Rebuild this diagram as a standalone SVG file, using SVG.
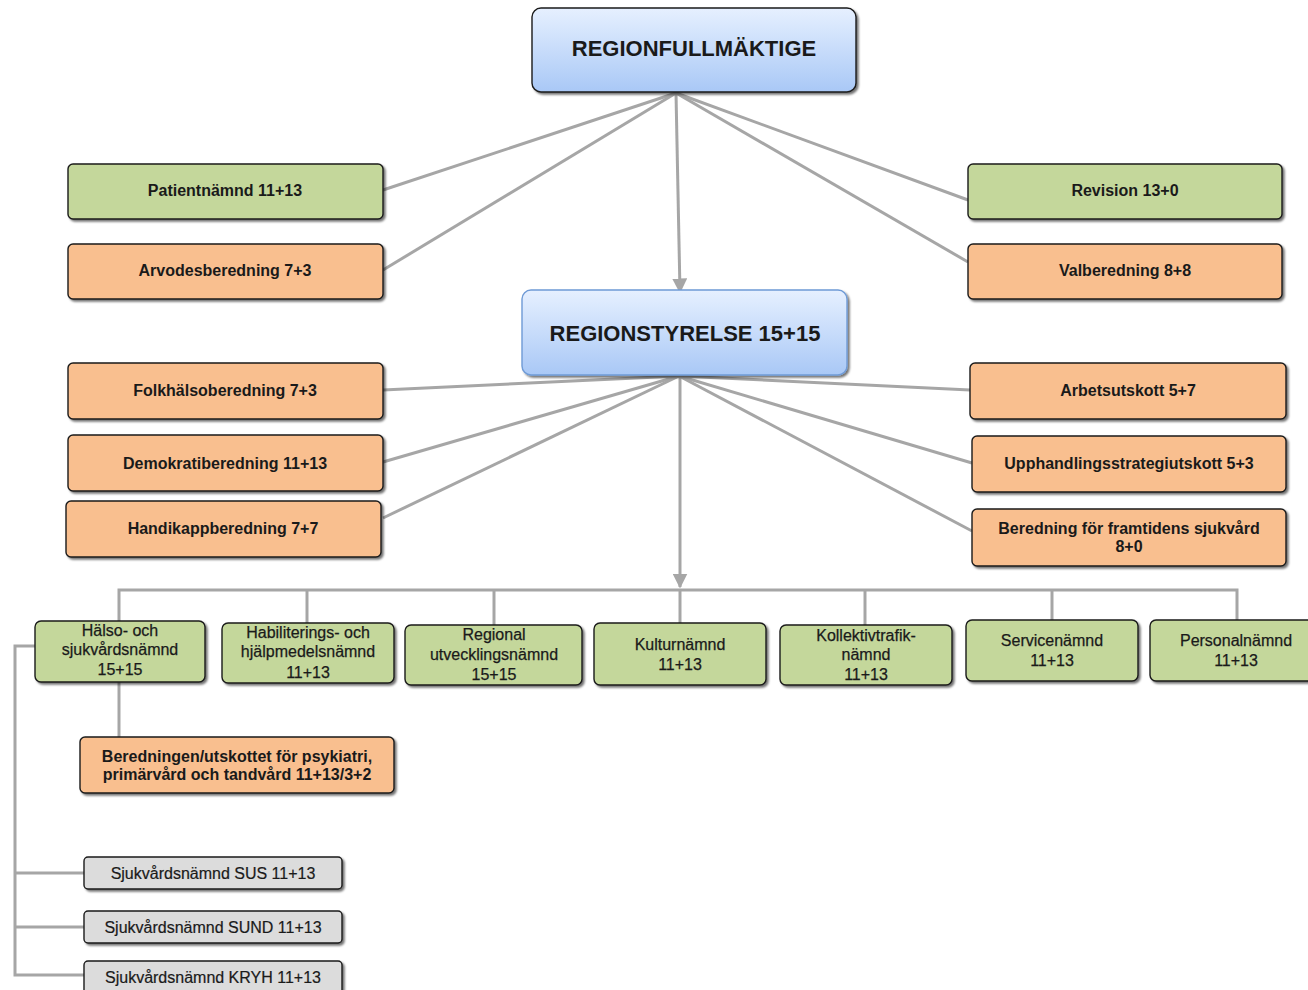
<svg xmlns="http://www.w3.org/2000/svg" width="1308" height="990" viewBox="0 0 1308 990">
<defs>
<linearGradient id="blue" x1="0" y1="0" x2="0" y2="1">
<stop offset="0" stop-color="#e6f0ff"/>
<stop offset="1" stop-color="#a9c8f6"/>
</linearGradient>
<filter id="sh" x="-5%" y="-10%" width="110%" height="130%">
<feDropShadow dx="2" dy="2" stdDeviation="1.2" flood-color="#000" flood-opacity="0.55"/>
</filter>
<marker id="arr" viewBox="0 0 10 10" refX="9" refY="5" markerWidth="5" markerHeight="5" orient="auto">
<path d="M0,0 L10,5 L0,10 z" fill="#a6a6a6"/>
</marker>
<style>
.box{stroke:#1a1a1a;stroke-width:1.4;filter:url(#sh)}
.green{fill:#c4d79b}
.orange{fill:#f9bf8f}
.gray{fill:#dcdcdc}
.top{fill:url(#blue)}
.rs{fill:url(#blue);stroke:#6f9bd6;stroke-width:1.4;filter:url(#sh)}
.conn{stroke:#a6a6a6;stroke-width:3;fill:none}
text{font-family:"Liberation Sans",Arial,sans-serif;fill:#1a1a1a;text-anchor:middle}
.big{font-size:22px;font-weight:bold}
.b{font-size:16px;font-weight:bold}
.n{font-size:16px;stroke:#1a1a1a;stroke-width:0.25}
.g{font-size:16px;stroke:#1a1a1a;stroke-width:0.2}
</style>
</defs>
<rect width="1308" height="990" fill="#fff"/>
<g id="connectors">
<line class="conn" x1="676" y1="93" x2="383" y2="190"/>
<line class="conn" x1="676" y1="93" x2="383" y2="270"/>
<line class="conn" x1="676" y1="93" x2="968" y2="200"/>
<line class="conn" x1="676" y1="93" x2="968" y2="262"/>
<line class="conn" x1="676" y1="93" x2="680" y2="292" marker-end="url(#arr)"/>
<line class="conn" x1="679" y1="376" x2="383" y2="390"/>
<line class="conn" x1="679" y1="376" x2="383" y2="462"/>
<line class="conn" x1="679" y1="376" x2="383" y2="518"/>
<line class="conn" x1="679" y1="376" x2="970" y2="390"/>
<line class="conn" x1="679" y1="376" x2="972" y2="463"/>
<line class="conn" x1="679" y1="376" x2="972" y2="531"/>
<line class="conn" x1="680" y1="376" x2="680" y2="587" marker-end="url(#arr)"/>
<path class="conn" d="M119,621 V590 H1237 V620"/>
<line class="conn" x1="307" y1="590" x2="307" y2="623"/>
<line class="conn" x1="494" y1="590" x2="494" y2="625"/>
<line class="conn" x1="680" y1="590" x2="680" y2="623"/>
<line class="conn" x1="865" y1="590" x2="865" y2="625"/>
<line class="conn" x1="1052" y1="590" x2="1052" y2="620"/>
<line class="conn" x1="119" y1="682" x2="119" y2="737"/>
<path class="conn" d="M35,646 H15 V975 H84"/>
<line class="conn" x1="15" y1="873" x2="84" y2="873"/>
<line class="conn" x1="15" y1="927" x2="84" y2="927"/>
</g>
<g id="regionfullmaktige">
<rect class="box top" x="532" y="8" width="324" height="84" rx="9"/>
<text class="big" x="694" y="56">REGIONFULLMÄKTIGE</text>
</g>
<g id="patientnamnd">
<rect class="box green" x="68" y="164" width="315" height="55" rx="5"/>
<text class="b" x="225" y="196">Patientnämnd 11+13</text>
</g>
<g id="arvodesberedning">
<rect class="box orange" x="68" y="244" width="315" height="55" rx="5"/>
<text class="b" x="225" y="276">Arvodesberedning 7+3</text>
</g>
<g id="revision">
<rect class="box green" x="968" y="164" width="314" height="55" rx="5"/>
<text class="b" x="1125" y="196">Revision 13+0</text>
</g>
<g id="valberedning">
<rect class="box orange" x="968" y="244" width="314" height="55" rx="5"/>
<text class="b" x="1125" y="276">Valberedning 8+8</text>
</g>
<g id="regionstyrelse">
<rect class="rs" x="522" y="290" width="325" height="85" rx="9"/>
<text class="big" x="685" y="341">REGIONSTYRELSE 15+15</text>
</g>
<g id="folkhalsoberedning">
<rect class="box orange" x="68" y="363" width="315" height="56" rx="5"/>
<text class="b" x="225" y="396">Folkhälsoberedning 7+3</text>
</g>
<g id="demokratiberedning">
<rect class="box orange" x="68" y="435" width="315" height="56" rx="5"/>
<text class="b" x="225" y="469">Demokratiberedning 11+13</text>
</g>
<g id="handikappberedning">
<rect class="box orange" x="66" y="501" width="315" height="56" rx="5"/>
<text class="b" x="223" y="534">Handikappberedning 7+7</text>
</g>
<g id="arbetsutskott">
<rect class="box orange" x="970" y="363" width="316" height="56" rx="5"/>
<text class="b" x="1128" y="396">Arbetsutskott 5+7</text>
</g>
<g id="upphandlingsstrategiutskott">
<rect class="box orange" x="972" y="436" width="314" height="56" rx="5"/>
<text class="b" x="1129" y="469">Upphandlingsstrategiutskott 5+3</text>
</g>
<g id="beredning-framtidens-sjukvard">
<rect class="box orange" x="972" y="509" width="314" height="57" rx="5"/>
<text class="b" x="1129" y="534">Beredning för framtidens sjukvård</text>
<text class="b" x="1129" y="552">8+0</text>
</g>
<g id="halso-sjukvardsnamnd">
<rect class="box green" x="35" y="621" width="170" height="61" rx="6"/>
<text class="n" x="120" y="636">Hälso- och</text>
<text class="n" x="120" y="655">sjukvårdsnämnd</text>
<text class="n" x="120" y="675">15+15</text>
</g>
<g id="habiliteringsnamnd">
<rect class="box green" x="222" y="623" width="172" height="60" rx="6"/>
<text class="n" x="308" y="638">Habiliterings- och</text>
<text class="n" x="308" y="657">hjälpmedelsnämnd</text>
<text class="n" x="308" y="678">11+13</text>
</g>
<g id="regional-utvecklingsnamnd">
<rect class="box green" x="405" y="625" width="177" height="60" rx="6"/>
<text class="n" x="494" y="640">Regional</text>
<text class="n" x="494" y="660">utvecklingsnämnd</text>
<text class="n" x="494" y="680">15+15</text>
</g>
<g id="kulturnamnd">
<rect class="box green" x="594" y="623" width="172" height="62" rx="6"/>
<text class="n" x="680" y="650">Kulturnämnd</text>
<text class="n" x="680" y="670">11+13</text>
</g>
<g id="kollektivtrafiknamnd">
<rect class="box green" x="780" y="625" width="172" height="60" rx="6"/>
<text class="n" x="866" y="641">Kollektivtrafik-</text>
<text class="n" x="866" y="660">nämnd</text>
<text class="n" x="866" y="680">11+13</text>
</g>
<g id="servicenamnd">
<rect class="box green" x="966" y="620" width="172" height="61" rx="6"/>
<text class="n" x="1052" y="646">Servicenämnd</text>
<text class="n" x="1052" y="666">11+13</text>
</g>
<g id="personalnamnd">
<rect class="box green" x="1150" y="620" width="172" height="61" rx="6"/>
<text class="n" x="1236" y="646">Personalnämnd</text>
<text class="n" x="1236" y="666">11+13</text>
</g>
<g id="beredningen-psykiatri">
<rect class="box orange" x="80" y="737" width="314" height="56" rx="5"/>
<text class="b" x="237" y="762">Beredningen/utskottet för psykiatri,</text>
<text class="b" x="237" y="780">primärvård och tandvård 11+13/3+2</text>
</g>
<g id="sjukvardsnamnd-sus">
<rect class="box gray" x="84" y="857" width="258" height="32" rx="4"/>
<text class="g" x="213" y="879">Sjukvårdsnämnd SUS 11+13</text>
</g>
<g id="sjukvardsnamnd-sund">
<rect class="box gray" x="84" y="911" width="258" height="32" rx="4"/>
<text class="g" x="213" y="933">Sjukvårdsnämnd SUND 11+13</text>
</g>
<g id="sjukvardsnamnd-kryh">
<rect class="box gray" x="84" y="961" width="258" height="34" rx="4"/>
<text class="g" x="213" y="983">Sjukvårdsnämnd KRYH 11+13</text>
</g>
</svg>
